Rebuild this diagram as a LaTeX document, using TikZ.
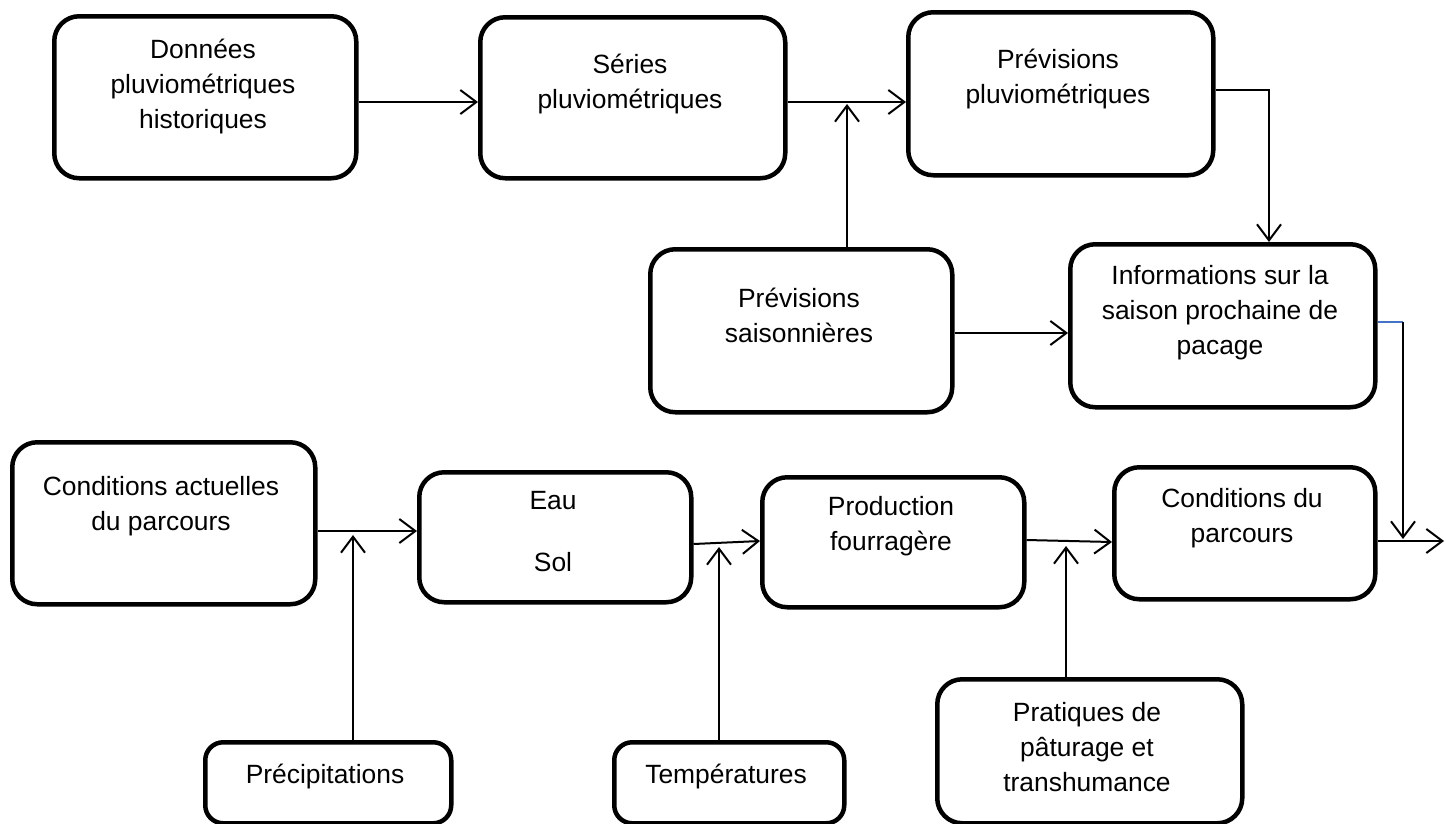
\documentclass[tikz,border=0pt]{standalone}
\usepackage{fontspec}
\setmainfont{Liberation Sans}
\usetikzlibrary{arrows.meta}
\begin{document}
\begin{tikzpicture}[x=1pt,y=-1pt,
  box/.style={draw=black, line width=4.5pt, rounded corners=25pt, inner sep=0pt, anchor=north west},
  sbox/.style={draw=black, line width=4.5pt, rounded corners=18pt, inner sep=0pt, anchor=north west},
  txt/.style={align=center, font=\fontsize{26.4}{35}\selectfont, inner sep=0pt},
  conn/.style={line width=2pt, -{Straight Barb[length=16pt,width=24pt]}},
  blueline/.style={line width=1.6pt, draw={rgb,255:red,68;green,114;blue,196}}]
\useasboundingbox (0,0) rectangle (1446,823);
\fill[white] (0,0) rectangle (1446,823);

% boxes
\node[box, minimum width=302pt, minimum height=162pt] (d) at (52,14) {};
\node[box, minimum width=305pt, minimum height=161pt] (s) at (478,15) {};
\node[box, minimum width=305pt, minimum height=163pt] (pp) at (906,10) {};
\node[box, minimum width=302pt, minimum height=163pt] (ps) at (648,247) {};
\node[box, minimum width=305pt, minimum height=163pt] (info) at (1068,242) {};
\node[box, minimum width=261pt, minimum height=132pt] (cdp) at (1112,465) {};
\node[box, minimum width=303pt, minimum height=162pt] (ca) at (10,440) {};
\node[box, minimum width=272pt, minimum height=130pt] (es) at (417,470) {};
\node[box, minimum width=262pt, minimum height=130pt] (pf) at (760,475) {};
\node[sbox, minimum width=246pt, minimum height=81pt] (prec) at (203,740) {};
\node[sbox, minimum width=230pt, minimum height=81pt] (temp) at (612,740) {};
\node[box, minimum width=305pt, minimum height=144pt] (prat) at (935,677) {};

% texts
\node[txt] (dt) at (203,87) {Données\\pluviométriques\\historiques};
\node[txt] (st) at (630,84) {Séries\\pluviométriques};
\node[txt] (ppt) at (1058,79) {Prévisions\\pluviométriques};
\node[txt] (pst) at (799,315) {Prévisions\\saisonnières};
\node[txt] (infot) at (1220,313) {Informations sur la\\saison prochaine de\\pacage};
\node[txt] (cdpt) at (1242,518) {Conditions du\\parcours};
\node[txt] (cat) at (161,506) {Conditions actuelles\\du parcours};
\node[txt] (est) at (553,532) {Eau\\[27pt]Sol};
\node[txt] (pft) at (891,526) {Production\\fourragère};
\node[txt] (prect) at (325,777) {Précipitations};
\node[txt] (tempt) at (726,777) {Températures};
\node[txt] (pratt) at (1087,747) {Pratiques de\\pâturage et\\transhumance};

% level helpers
\coordinate (r1) at (0,102);
\coordinate (r2) at (0,333);
\coordinate (r3) at (0,531);
\coordinate (r4a) at (0,544);
\coordinate (r4b) at (0,541);
\coordinate (r5) at (0,541);
\coordinate (r6a) at (0,540);
\coordinate (r6b) at (0,542);
\coordinate (j1) at (847,104);
\coordinate (k1) at (1269,90);
\coordinate (k2) at (1403,322);
\coordinate (k2s) at (1378,322);
\coordinate (j4) at (1403,539);
\coordinate (out) at (1444,541);
\coordinate (j2) at (353,535);
\coordinate (j3) at (719,547);
\coordinate (j5) at (1066,546);

% connectors
\draw[conn] (d.east |- r1) -- (s.west |- r1);
\draw[conn] (s.east |- r1) -- (pp.west |- r1);
\draw[conn] (ps.north -| j1) -- (j1);
\draw[conn] (pp.east |- k1) -- (k1) -- (info.north -| k1);
\draw[conn] (ps.east |- r2) -- (info.west |- r2);
\draw[blueline] (k2s) -- (k2);
\draw[conn] (k2) -- (j4);
\draw[conn] (cdp.east |- r5) -- (out);
\draw[conn] (ca.east |- r3) -- (es.west |- r3);
\draw[conn] (prec.north -| j2) -- (j2);
\draw[conn] (es.east |- r4a) -- (pf.west |- r4b);
\draw[conn] (temp.north -| j3) -- (j3);
\draw[conn] (pf.east |- r6a) -- (cdp.west |- r6b);
\draw[conn] (prat.north -| j5) -- (j5);
\end{tikzpicture}
\end{document}
